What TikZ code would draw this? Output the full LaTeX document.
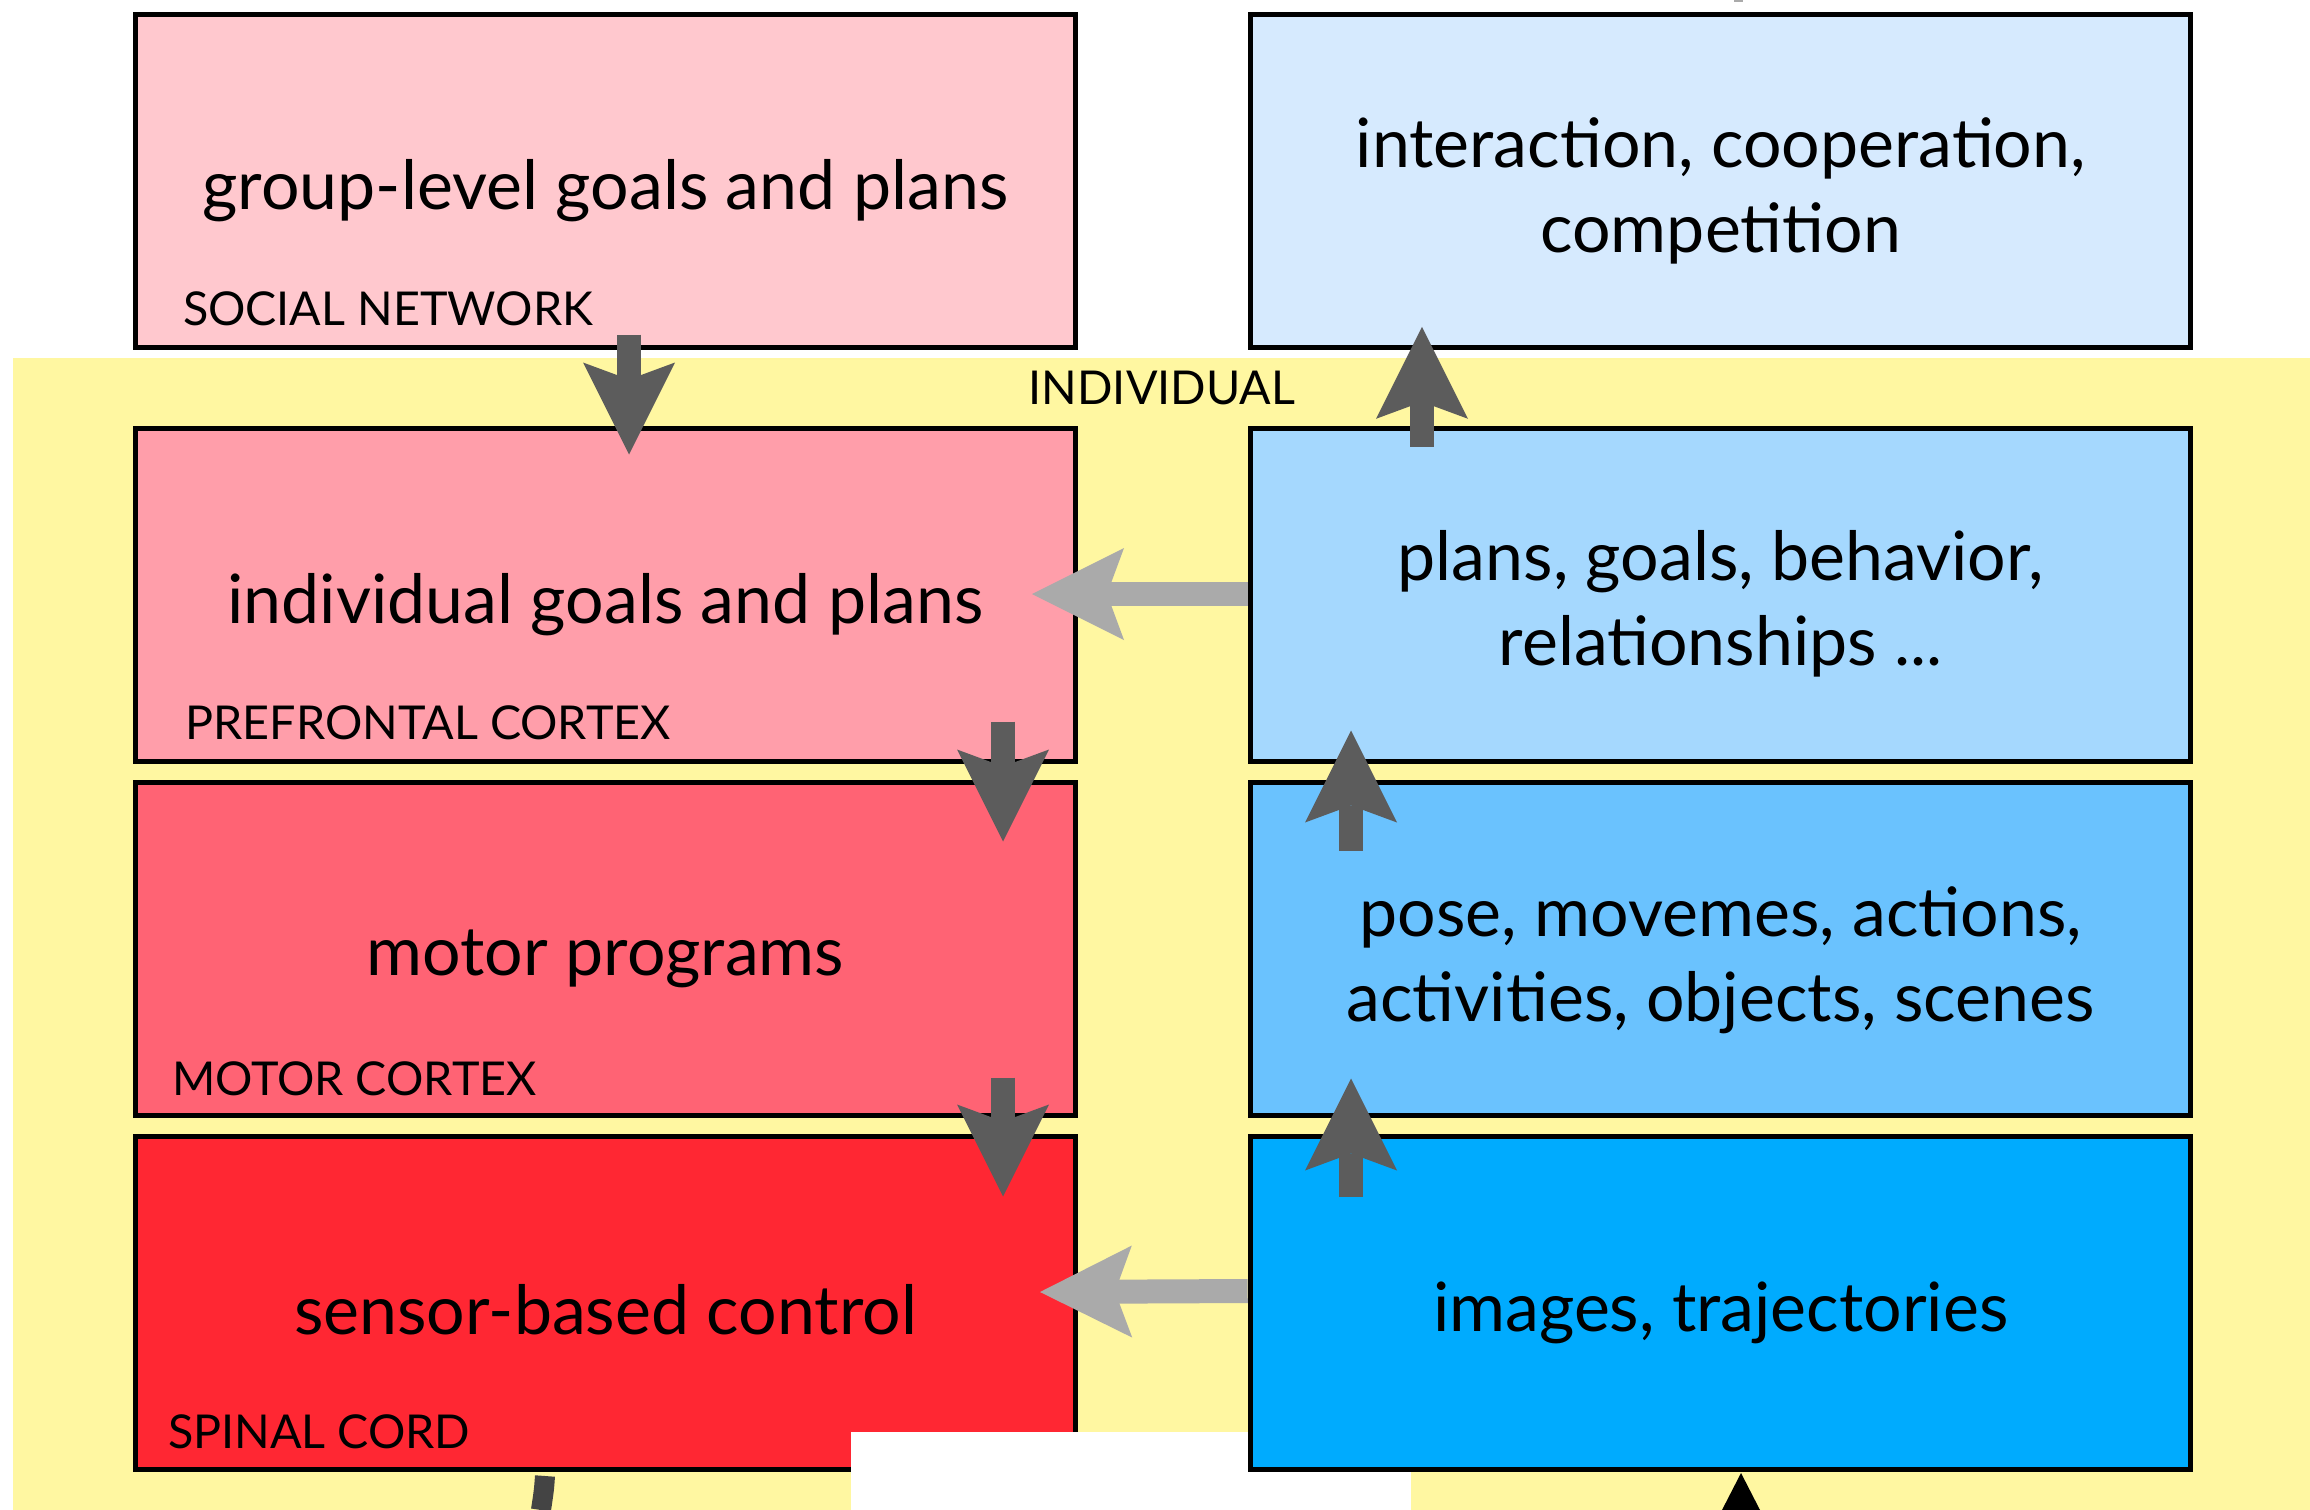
\documentclass[tikz,border=0pt]{standalone}
\usepackage{fontspec}
\setmainfont{Lato}
\usetikzlibrary{arrows.meta}

\definecolor{bandyellow}{RGB}{255,247,161}
\definecolor{pinkA}{RGB}{255,200,206}
\definecolor{pinkB}{RGB}{255,158,170}
\definecolor{pinkC}{RGB}{255,99,116}
\definecolor{pinkD}{RGB}{255,39,51}
\definecolor{blueA}{RGB}{214,234,254}
\definecolor{blueB}{RGB}{165,216,254}
\definecolor{blueC}{RGB}{106,194,254}
\definecolor{blueD}{RGB}{0,171,254}
\definecolor{arrowdark}{RGB}{92,92,92}
\definecolor{arrowlight}{RGB}{170,170,170}
\definecolor{stubdark}{RGB}{68,68,68}

\newcommand{\boxfont}{\fontsize{51}{64}\selectfont}
\newcommand{\tagfont}{\fontsize{35}{42}\selectfont}

\tikzset{every picture/.style={line width=0.75pt}}
\tikzset{
  layerbox/.style={draw=black, line width=3.75pt, minimum width=705pt, minimum height=249.75pt,
    inner sep=0pt, outer sep=0pt},
  boxtext/.style={inner sep=0pt, outer sep=0pt, align=center, font=\boxfont},
  tagtext/.style={anchor=west, inner sep=0pt, outer sep=0pt, font=\tagfont},
  darkarrow/.style={draw=arrowdark, line width=18pt,
    -{Stealth[length=69pt, width=69pt, inset=12.75pt, line width=0pt]}},
  lightarrow/.style={draw=arrowlight, line width=18pt,
    -{Stealth[length=69pt, width=69pt, inset=12.75pt, line width=0pt]}},
}

\begin{document}
\begin{tikzpicture}[x=0.75pt,y=0.75pt,yscale=-1,xscale=1]
\useasboundingbox (0,0) rectangle (2310,1510);

%Shapes: band of the individual
\fill [bandyellow] (13,358) rectangle (2310,1510);

%Left column
\node [layerbox, fill=pinkA] (soc) at (605.5,181) {};
\node [layerbox, fill=pinkB] (pfc) at (605.5,595) {};
\node [layerbox, fill=pinkC] (mot) at (605.5,949) {};
\node [layerbox, fill=pinkD] (spc) at (605.5,1303) {};

%Shapes: white patch
\fill [white] (851,1432) rectangle (1411,1510);

%Right column
\node [layerbox, fill=blueA] (int) at (1720.7,181) {};
\node [layerbox, fill=blueB] (beh) at (1720.7,595) {};
\node [layerbox, fill=blueC] (pose) at (1720.7,949) {};
\node [layerbox, fill=blueD] (img) at (1720.7,1303) {};

% Text Node
\node [boxtext] (socText) at ([shift={(0,10)}]soc.center) {group-level goals and plans};
% Text Node
\node [boxtext] (pfcText) at ([shift={(0,10)}]pfc.center) {individual goals and plans};
% Text Node
\node [boxtext] (motText) at ([shift={(0,10)}]mot.center) {motor programs};
% Text Node
\node [boxtext] (spcText) at ([shift={(0,7)}]spc.center) {sensor-based control};
% Text Node
\node [boxtext] (intText) at ([shift={(0,10)}]int.center) {interaction, cooperation,\\competition};
% Text Node
\node [boxtext] (behText) at ([shift={(0,9)}]beh.center) {plans, goals, behavior,\\relationships ...};
% Text Node
\node [boxtext] (poseText) at ([shift={(0,11)}]pose.center) {pose, movemes, actions,\\activities, objects, scenes};
% Text Node
\node [boxtext] (imgText) at ([shift={(0,10)}]img.center) {images, trajectories};

% Text Node
\node [tagtext] (socTag) at ([shift={(47.5,-38.7)}]soc.south west) {SOCIAL NETWORK};
% Text Node
\node [tagtext] (pfcTag) at ([shift={(50,-39)}]pfc.south west) {PREFRONTAL CORTEX};
% Text Node
\node [tagtext] (motTag) at ([shift={(36.5,-37)}]mot.south west) {MOTOR CORTEX};
% Text Node
\node [tagtext] (spcTag) at ([shift={(32.5,-38)}]spc.south west) {SPINAL CORD};
% Text Node
\node [tagtext, anchor=center] (indivTag) at (1162,388) {INDIVIDUAL};

%Straight Lines: top-down
\draw [darkarrow] ([shift={(23.5,-13)}]soc.south) -- ([shift={(23.5,26)}]pfc.north);
\draw [darkarrow] ([shift={(397.5,-40)}]pfc.south) -- ([shift={(397.5,59)}]mot.north);
\draw [darkarrow] ([shift={(397.5,-38)}]mot.south) -- ([shift={(397.5,60)}]spc.north);

%Straight Lines: bottom-up
\draw [darkarrow] ([shift={(-298.7,18)}]beh.north) -- ([shift={(-298.7,-20.7)}]int.south);
\draw [darkarrow] ([shift={(-369.7,68)}]pose.north) -- ([shift={(-369.7,-31)}]beh.south);
\draw [darkarrow] ([shift={(-369.7,60)}]img.north) -- ([shift={(-369.7,-37)}]pose.south);

%Straight Lines: across
\draw [lightarrow] ([shift={(-3,-1)}]beh.west) -- ([shift={(-43.5,-1)}]pfc.east);
\draw [lightarrow] ([shift={(-3,-12)}]img.west) -- ([shift={(-35.5,-11)}]spc.east);

%Shapes: cut-off ends at the edges
\fill [arrowlight] (1734,0) rectangle (1743,2);
\draw [stubdark, line width=15pt] (545,1476) .. controls (544,1490) .. (541,1510);
\fill [black] (1741,1473) -- (1760,1510) -- (1722,1510) -- cycle;

\end{tikzpicture}
\end{document}
